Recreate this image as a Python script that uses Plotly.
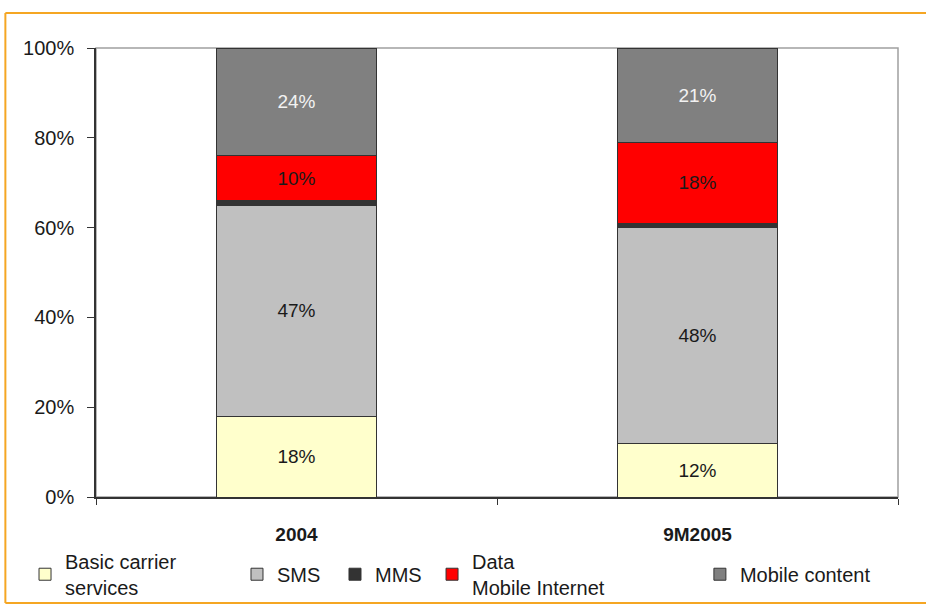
import plotly.graph_objects as go

categories = ["2004", "9M2005"]
series_names = ["Basic carrier<br>services", "SMS", "MMS", "Data<br>Mobile Internet", "Mobile content"]
basic = [18, 12]
sms = [47, 48]
mms = [1, 1]
data_mi = [10, 18]
content = [24, 21]
tick_vals = [0, 20, 40, 60, 80, 100]
tick_text = [f"{v}%" for v in tick_vals]

FONT = "Liberation Sans, Arial, sans-serif"
series = [basic, sms, mms, data_mi, content]
colors = ["#FFFFCC", "#C0C0C0", "#333333", "#FF0000", "#808080"]
text_colors = ["#1a1a1a", "#1a1a1a", "#1a1a1a", "#1a1a1a", "#F2F2F2"]
show_label = [True, True, False, True, True]
legend_x = [-0.0885, 0.1758, 0.298, 0.419, 0.753]
legend_ids = ["legend", "legend2", "legend3", "legend4", "legend5"]

fig = go.Figure()
for i, (name, vals) in enumerate(zip(series_names, series)):
    fig.add_trace(go.Bar(
        x=categories, y=vals, name=name,
        marker=dict(color=colors[i], line=dict(color="#333333", width=1)),
        text=[f"{v}%" for v in vals] if show_label[i] else None,
        textposition="inside" if show_label[i] else "none",
        insidetextanchor="middle", textangle=0,
        textfont=dict(color=text_colors[i], size=19, family=FONT),
        legend=legend_ids[i],
        hoverinfo="skip",
    ))

legend_common = dict(orientation="v", bgcolor="rgba(0,0,0,0)", borderwidth=0,
                     font=dict(size=20, color="#1a1a1a", family=FONT),
                     yanchor="middle", y=-0.172, xanchor="left", itemwidth=30, tracegroupgap=0)
layout_legends = {}
for i, lid in enumerate(legend_ids):
    layout_legends[lid] = dict(legend_common, x=legend_x[i])

orange = dict(color="#F5A623", width=2)
fig.update_layout(
    barmode="stack",
    bargap=0.6,
    width=926, height=605,
    margin=dict(l=96, r=28, t=48, b=108, autoexpand=False),
    paper_bgcolor="white", plot_bgcolor="white",
    font=dict(family=FONT, size=19, color="#1a1a1a"),
    showlegend=True,
    xaxis=dict(type="category", showgrid=False, showline=True, linecolor="#333333", linewidth=1.5,
               ticks="outside", tickson="boundaries", ticklen=6, tickcolor="#333333",
               ticklabelstandoff=19,
               tickfont=dict(size=19, color="#1a1a1a", family=FONT, weight="bold"),
               range=[-0.5, 1.5]),
    yaxis=dict(range=[0, 100], tickvals=tick_vals, ticktext=tick_text, showgrid=False, showline=True,
               linecolor="#333333", linewidth=1.5, ticks="outside", ticklen=7, tickcolor="#333333",
               ticklabelstandoff=9,
               tickfont=dict(size=20, color="#1a1a1a", family=FONT), zeroline=False),
    shapes=[
        dict(type="rect", xref="paper", yref="paper", x0=0, x1=1, y0=0, y1=1,
             line=dict(color="#A0A0A0", width=1.5), layer="below"),
        dict(type="line", xref="paper", yref="paper", x0=-0.113, x1=1.045, y0=1.078, y1=1.078,
             line=orange, layer="below"),
        dict(type="line", xref="paper", yref="paper", x0=-0.113, x1=-0.113, y0=-0.236, y1=1.078,
             line=orange, layer="below"),
        dict(type="line", xref="paper", yref="paper", x0=-0.113, x1=1.045, y0=-0.236, y1=-0.236,
             line=orange, layer="below"),
    ],
    **layout_legends,
)

fig.write_html("out.html", config={"displayModeBar": False},
               post_script="document.body.style.margin='0';document.body.style.overflow='hidden';")
